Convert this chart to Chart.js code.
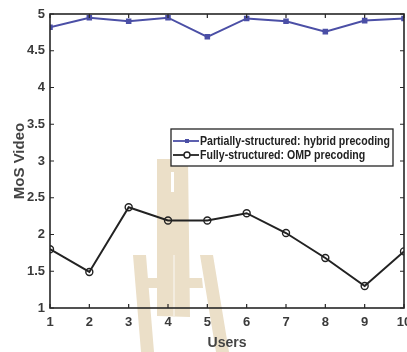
<!DOCTYPE html>
<html>
<head>
<meta charset="utf-8">
<script src="https://cdn.jsdelivr.net/npm/chart.js@4.4.1/dist/chart.umd.min.js"></script>
<style>
  html, body { margin: 0; padding: 0; background: #fff; }
  #wrap { width: 407px; height: 352px; position: relative; }
</style>
</head>
<body>
<div id="wrap"><canvas id="c" width="407" height="352"></canvas></div>
<script>
const users = [1, 2, 3, 4, 5, 6, 7, 8, 9, 10];
const hybridMos = [4.82, 4.95, 4.90, 4.95, 4.69, 4.94, 4.90, 4.76, 4.91, 4.94];
const ompMos = [1.80, 1.49, 2.37, 2.19, 2.19, 2.29, 2.02, 1.68, 1.30, 1.77];
const yTicks = [1, 1.5, 2, 2.5, 3, 3.5, 4, 4.5, 5];
const seriesNames = ['Partially-structured: hybrid precoding', 'Fully-structured: OMP precoding'];

const FONT = '"Liberation Sans", Arial, sans-serif';
const TXT = '#3a3a3a';

// Pale tan emblem in the page background
const emblem = {
  id: 'emblem',
  beforeDraw(chart) {
    const ctx = chart.ctx;
    const poly = pts => {
      ctx.moveTo(pts[0][0], pts[0][1]);
      for (let i = 1; i < pts.length; i++) ctx.lineTo(pts[i][0], pts[i][1]);
      ctx.closePath();
    };
    ctx.save();
    ctx.fillStyle = '#ebdfc8';
    ctx.beginPath();
    // central column
    poly([[157, 159], [188, 159], [190, 317], [157, 316]]);
    // left outer leg and crossbar
    poly([[133, 255], [146, 255], [154, 352], [141, 352]]);
    poly([[144, 278], [158, 278], [158, 288], [145, 288]]);
    // right outer leg and crossbar
    poly([[200, 255], [213, 255], [229, 352], [216, 352]]);
    poly([[189, 278], [202, 278], [203, 288], [189, 288]]);
    ctx.fill();
    // narrow slits
    ctx.fillStyle = '#ffffff';
    ctx.fillRect(171, 172, 3, 20);
    ctx.fillStyle = '#f3ecdf';
    ctx.fillRect(173, 255, 2, 61);
    ctx.restore();
  }
};

// Box frame with inward ticks on all four sides
const frame = {
  id: 'frame',
  afterDatasetsDraw(chart) {
    const { ctx, chartArea: a, scales } = chart;
    ctx.save();
    ctx.strokeStyle = '#262626';
    ctx.lineWidth = 1.6;
    ctx.strokeRect(a.left, a.top, a.right - a.left, a.bottom - a.top);
    ctx.lineWidth = 1.2;
    const t = 4;
    ctx.beginPath();
    users.forEach(u => {
      const x = scales.x.getPixelForValue(u);
      ctx.moveTo(x, a.bottom); ctx.lineTo(x, a.bottom - t);
      ctx.moveTo(x, a.top); ctx.lineTo(x, a.top + t);
    });
    yTicks.forEach(v => {
      const y = scales.y.getPixelForValue(v);
      ctx.moveTo(a.left, y); ctx.lineTo(a.left + t, y);
      ctx.moveTo(a.right, y); ctx.lineTo(a.right - t, y);
    });
    ctx.stroke();
    ctx.restore();
  }
};

// Boxed legend inside the plot area, condensed bold text
const boxLegend = {
  id: 'boxLegend',
  afterDraw(chart) {
    const ctx = chart.ctx;
    const x0 = 171, y0 = 129, w = 222, h = 37;
    ctx.save();
    ctx.fillStyle = '#fff';
    ctx.fillRect(x0, y0, w, h);
    ctx.strokeStyle = '#262626';
    ctx.lineWidth = 1.3;
    ctx.strokeRect(x0, y0, w, h);
    ctx.font = 'bold 13px ' + FONT;
    ctx.textBaseline = 'middle';
    const textX = x0 + 29;
    const squeeze = 190 / ctx.measureText(chart.data.datasets[0].label).width;
    chart.data.datasets.forEach((ds, i) => {
      const y = y0 + 12 + i * 14;
      ctx.strokeStyle = ds.borderColor;
      ctx.lineWidth = 1.8;
      ctx.beginPath(); ctx.moveTo(x0 + 2, y); ctx.lineTo(x0 + 28, y); ctx.stroke();
      const mx = x0 + 16;
      if (ds.pointStyle === 'rect') {
        ctx.fillStyle = ds.pointBackgroundColor;
        ctx.fillRect(mx - 2, y - 2, 4, 4);
      } else {
        ctx.fillStyle = '#fff';
        ctx.lineWidth = 1.4;
        ctx.beginPath(); ctx.arc(mx, y, 3, 0, Math.PI * 2); ctx.fill(); ctx.stroke();
      }
      ctx.save();
      ctx.translate(textX, y + 0.5);
      ctx.scale(squeeze, 1);
      ctx.fillStyle = '#222';
      ctx.fillText(ds.label, 0, 0);
      ctx.restore();
    });
    ctx.restore();
  }
};

new Chart(document.getElementById('c'), {
  type: 'line',
  data: {
    labels: users,
    datasets: [
      {
        label: seriesNames[0],
        data: hybridMos,
        borderColor: '#4b4fa6',
        backgroundColor: '#4b4fa6',
        pointBackgroundColor: '#4b4fa6',
        pointBorderColor: '#4b4fa6',
        pointStyle: 'rect',
        pointRadius: 2.5,
        borderWidth: 2,
        tension: 0
      },
      {
        label: seriesNames[1],
        data: ompMos,
        borderColor: '#222222',
        backgroundColor: '#222222',
        pointBackgroundColor: 'rgba(255,255,255,0)',
        pointBorderColor: '#222222',
        pointStyle: 'circle',
        pointRadius: 3.5,
        pointBorderWidth: 1.4,
        borderWidth: 2,
        tension: 0
      }
    ]
  },
  options: {
    responsive: false,
    animation: false,
    devicePixelRatio: 1,
    // the plot box runs almost to the page edge, so the last x label is clipped
    layout: { autoPadding: false, padding: { top: 14, right: 3, left: 0, bottom: 0 } },
    plugins: { legend: { display: false }, tooltip: { enabled: false } },
    scales: {
      x: {
        type: 'linear',
        min: 1, max: 10,
        grid: { display: false, drawTicks: false },
        border: { display: false },
        afterBuildTicks(s) { s.ticks = users.map(v => ({ value: v })); },
        afterFit(s) { s.height = 44; s.paddingLeft = 0; s.paddingRight = 0; },
        ticks: {
          color: TXT, padding: 7,
          font: { family: FONT, size: 13, weight: 'bold' },
          maxRotation: 0,
          callback: v => String(v)
        },
        title: {
          display: true, text: 'Users', color: '#444',
          font: { family: FONT, size: 14, weight: 'bold' },
          padding: { top: 0, bottom: 0 }
        }
      },
      y: {
        min: 1, max: 5,
        grid: { display: false, drawTicks: false },
        border: { display: false },
        afterBuildTicks(s) { s.ticks = yTicks.map(v => ({ value: v })); },
        afterFit(s) { s.width = 50; s.paddingTop = 0; s.paddingBottom = 0; },
        ticks: {
          color: TXT, padding: 5,
          font: { family: FONT, size: 13, weight: 'bold' },
          callback: v => String(v)
        },
        title: {
          display: true, text: 'MoS Video', color: '#444',
          font: { family: FONT, size: 15, weight: 'bold' },
          padding: { top: 11, bottom: 0 }
        }
      }
    }
  },
  plugins: [emblem, frame, boxLegend]
});
</script>
</body>
</html>
